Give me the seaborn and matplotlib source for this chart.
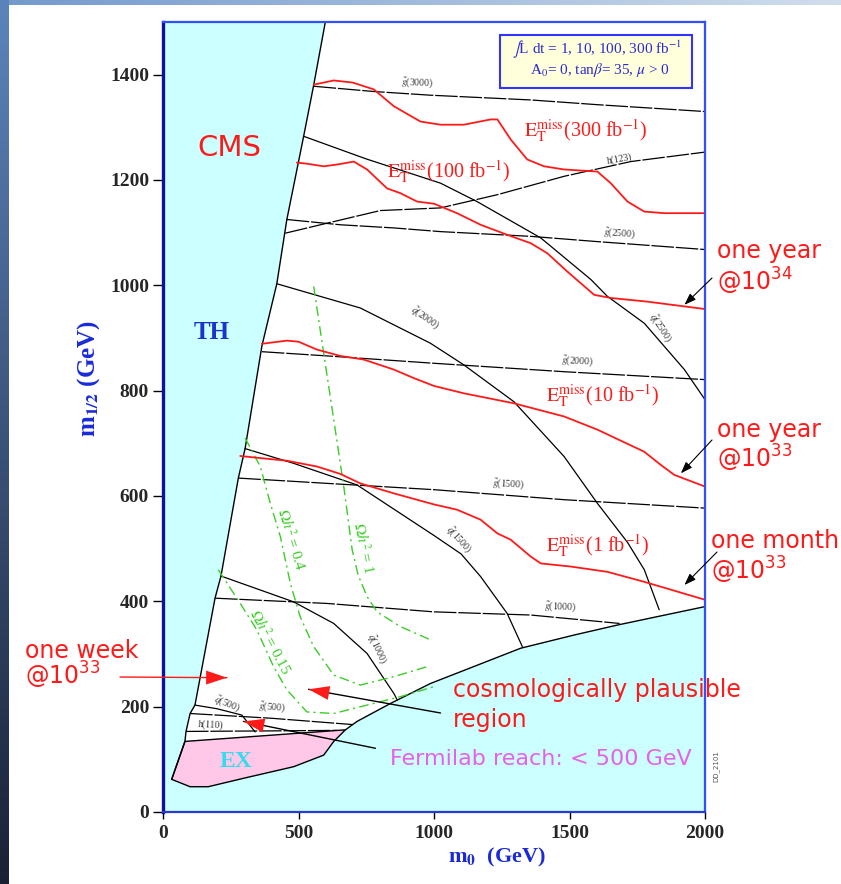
import matplotlib
matplotlib.use("Agg")
import matplotlib.pyplot as plt
import numpy as np
import seaborn as sns
from matplotlib.patches import Rectangle

W, H = 841, 884

# ---- excluded / allowed region boundaries (m0, m1/2 in GeV) ----
TH_M0 = [599, 556, 519, 457, 420, 365, 303, 278, 214, 192, 118, 100, 85, 81]
TH_M12 = [1500, 1380, 1283, 1125, 1003, 885, 690, 634, 448, 406, 203, 187, 153, 134]
EX_M0 = [81, 673, 630, 593, 482, 297, 167, 100, 32]
EX_M12 = [134, 156, 134, 108, 86, 64, 48, 48, 62]
LOW_M0 = [673, 716, 839, 987, 1320, 1517, 1677, 2000]
LOW_M12 = [156, 172, 206, 244, 311, 336, 355, 390]

# ---- sparticle mass contours ----
G3000_M0 = [556, 778, 987, 1357, 1603, 2000]
G3000_M12 = [1378, 1368, 1361, 1352, 1343, 1330]
Q2500_M0 = [519, 750, 1024, 1159, 1394, 1579, 1640, 1776, 1924, 2000]
Q2500_M12 = [1283, 1240, 1194, 1159, 1090, 1011, 979, 928, 840, 783]
H123_M0 = [451, 630, 802, 1024, 1233, 1480, 1726, 2000]
H123_M12 = [1099, 1121, 1142, 1147, 1172, 1207, 1235, 1253]
G2500_M0 = [457, 654, 852, 1024, 1357, 1603, 2000]
G2500_M12 = [1125, 1115, 1109, 1102, 1093, 1083, 1068]
Q2000_M0 = [420, 728, 987, 1110, 1295, 1480, 1603, 1714, 1776, 1831]
Q2000_M12 = [1003, 957, 890, 849, 779, 675, 586, 512, 460, 384]
G2000_M0 = [365, 605, 1000, 1480, 2000]
G2000_M12 = [874, 866, 852, 836, 821]
Q1500_M0 = [303, 482, 716, 1000, 1100, 1172, 1270, 1326]
Q1500_M12 = [690, 662, 621, 525, 490, 447, 377, 314]
G1500_M0 = [278, 605, 1000, 1480, 2000]
G1500_M12 = [634, 624, 612, 593, 577]
Q1000_M0 = [214, 482, 630, 753, 852, 864]
Q1000_M12 = [448, 399, 358, 301, 225, 213]
G1000_M0 = [192, 605, 1000, 1357, 1685]
G1000_M12 = [406, 396, 380, 374, 358]
Q500_M0 = [118, 200, 291, 340]
Q500_M12 = [203, 196, 184, 152]
G500_M0 = [100, 400, 700]
G500_M12 = [187, 178, 166]
H110_M0 = [85, 400, 640]
H110_M12 = [153, 154, 155]

# ---- missing ET reach curves ----
ET300_M0 = [556, 630, 700, 778, 852, 950, 1024, 1110, 1209, 1234, 1283, 1344, 1406,
            1480, 1603, 1652, 1714, 1776, 1850, 2000]
ET300_M12 = [1381, 1389, 1385, 1372, 1340, 1311, 1305, 1305, 1315, 1315, 1277, 1239, 1226,
             1220, 1216, 1194, 1159, 1140, 1137, 1137]
ET100_M0 = [494, 531, 593, 650, 704, 753, 827, 876, 938, 1000, 1085, 1172, 1270, 1357,
            1418, 1490, 1591, 1652, 1788, 1924, 2000]
ET100_M12 = [1233, 1231, 1226, 1230, 1235, 1220, 1184, 1175, 1159, 1155, 1137, 1115, 1096, 1080,
             1061, 1027, 982, 976, 969, 960, 955]
ET10_M0 = [365, 457, 500, 568, 654, 741, 852, 925, 1000, 1110, 1295, 1480, 1603, 1776,
           1837, 1887, 2000]
ET10_M12 = [889, 895, 893, 878, 866, 859, 840, 824, 809, 795, 776, 751, 726, 684,
            659, 640, 618]
ET1_M0 = [285, 359, 457, 568, 654, 728, 852, 1000, 1085, 1172, 1234, 1283, 1357, 1394,
          1505, 1640, 1776, 2000]
ET1_M12 = [676, 672, 667, 656, 642, 624, 605, 584, 574, 555, 529, 517, 485, 472,
           466, 456, 437, 403]

# ---- relic density contours ----
OM1_M0 = [556, 593, 630, 667, 698, 720, 753, 790, 876, 987]
OM1_M12 = [998, 871, 745, 618, 498, 450, 409, 380, 352, 327]
OM04_M0 = [303, 359, 396, 433, 470, 506, 556, 630, 728, 852, 975]
OM04_M12 = [710, 656, 586, 523, 434, 371, 314, 260, 241, 257, 276]
OM015_M0 = [204, 285, 346, 408, 457, 531, 630, 753, 876, 1000]
OM015_M12 = [460, 396, 346, 276, 232, 190, 187, 203, 219, 238]

# ---- contour name labels ----
CLAB_TEXT = [r"$\tilde{g}$(3000)", "h(123)", r"$\tilde{g}$(2500)", r"$\tilde{q}$(2000)",
             r"$\tilde{q}$(2500)", r"$\tilde{g}$(2000)", r"$\tilde{g}$(1500)", r"$\tilde{q}$(1500)",
             r"$\tilde{g}$(1000)", r"$\tilde{q}$(1000)", r"$\tilde{q}$(500)", r"$\tilde{g}$(500)",
             "h(110)"]
CLAB_M0 = [939, 1686, 1686, 969, 1837, 1530, 1275, 1091, 1468, 791, 237, 403, 177]
CLAB_M12 = [1385, 1239, 1098, 938, 919, 857, 623, 517, 389, 310, 205, 198, 165]
CLAB_ROT = [-2, 10, -4, -35, -57, -3, -3, -48, -2, -65, -22, -4, -3]

OM_TEXT = [r"$\Omega h^2$ = 0.4", r"$\Omega h^2$ = 1", r"$\Omega h^2$ = 0.15"]
OM_M0 = [473, 739, 396]
OM_M12 = [517, 502, 323]
OM_ROT = [-73, -78, -62]

ET_TEXT = ["300", "100", "10", "1"]
ET_M0 = [1331, 828, 1412, 1412]
ET_M12 = [1282, 1204, 779, 494]

RED = "#ff1a1a"
GREEN = "#3ccc28"
SERIF = "Liberation Serif"
SANS = "DejaVu Sans"

sns.set_style("white")
plt.rcParams["font.family"] = [SANS]
plt.rcParams["mathtext.fontset"] = "stix"

fig = plt.figure(figsize=(W / 100, H / 100), dpi=100)

# slide background strips
bg = fig.add_axes([0, 0, 1, 1], zorder=-10)
img = np.ones((H, W, 3))
t = np.linspace(0, 1, H)[:, None]
img[:, :9, :] = (np.array([0.36, 0.52, 0.74]) * (1 - t) + np.array([0.10, 0.13, 0.21]) * t)[:, None, :]
s = np.linspace(0, 1, W)[None, :, None]
img[:5, 9:, :] = (np.array([0.45, 0.60, 0.80]) * (1 - s) + np.array([0.82, 0.87, 0.93]) * s)[:, 9:, :]
bg.imshow(img, aspect="auto", extent=[0, 1, 0, 1])
bg.axis("off")


def fx(px):
    return px / W


def fy(py):
    return 1 - py / H


ax = fig.add_axes([fx(163), fy(812), 542 / W, 790 / H])
ax.set_facecolor("#ccffff")
ax.set_xlim(0, 2000)
ax.set_ylim(0, 1500)

# allowed (white) region and experimental exclusion
white_x = TH_M0 + LOW_M0 + [2000]
white_y = TH_M12 + LOW_M12 + [1500]
ax.fill(white_x, white_y, color="white", lw=0, zorder=1)
ax.fill(EX_M0, EX_M12, facecolor="#ffc8e8", edgecolor="black", lw=1.0, zorder=2)
sns.lineplot(x=TH_M0 + [32], y=TH_M12 + [62], sort=False, estimator=None, ax=ax,
             color="black", lw=1.0, zorder=3)
sns.lineplot(x=LOW_M0, y=LOW_M12, sort=False, estimator=None, ax=ax,
             color="black", lw=1.0, zorder=3)

dashed = (0, (18, 1.5))
contours = [
    (G3000_M0, G3000_M12, dashed), (Q2500_M0, Q2500_M12, "-"), (H123_M0, H123_M12, dashed),
    (G2500_M0, G2500_M12, dashed), (Q2000_M0, Q2000_M12, "-"), (G2000_M0, G2000_M12, dashed),
    (Q1500_M0, Q1500_M12, "-"), (G1500_M0, G1500_M12, dashed), (Q1000_M0, Q1000_M12, "-"),
    (G1000_M0, G1000_M12, dashed), (Q500_M0, Q500_M12, "-"), (G500_M0, G500_M12, dashed),
    (H110_M0, H110_M12, dashed),
]
for xs, ys, ls in contours:
    sns.lineplot(x=xs, y=ys, sort=False, estimator=None, ax=ax, color="black",
                 lw=0.9, linestyle=ls, zorder=4)

for xs, ys in [(OM1_M0, OM1_M12), (OM04_M0, OM04_M12), (OM015_M0, OM015_M12)]:
    sns.lineplot(x=xs, y=ys, sort=False, estimator=None, ax=ax, color=GREEN,
                 lw=1.0, linestyle=(0, (7, 3, 1.5, 3)), zorder=5)

for xs, ys in [(ET300_M0, ET300_M12), (ET100_M0, ET100_M12), (ET10_M0, ET10_M12), (ET1_M0, ET1_M12)]:
    sns.lineplot(x=xs, y=ys, sort=False, estimator=None, ax=ax, color=RED, lw=1.3, zorder=6)

for txt, x, y, r in zip(CLAB_TEXT, CLAB_M0, CLAB_M12, CLAB_ROT):
    ax.text(x, y, txt, rotation=r, ha="center", va="center", fontsize=7, color="#333333",
            family=SERIF, math_fontfamily="stix", zorder=7)

for txt, x, y, r in zip(OM_TEXT, OM_M0, OM_M12, OM_ROT):
    ax.text(x, y, txt, rotation=r, ha="center", va="center", fontsize=11, color=GREEN,
            family=SERIF, math_fontfamily="stix", zorder=7)

for lum, x, y in zip(ET_TEXT, ET_M0, ET_M12):
    ax.text(x, y, r"$\mathrm{E}_\mathrm{T}^\mathrm{miss}$(" + lum + r" fb$^{\mathrm{-1}}$)",
            ha="left", va="baseline", fontsize=14.5, color=RED, family=SERIF,
            math_fontfamily="stix", zorder=7)

ax.text(244, 1261, "CMS", ha="center", va="center", fontsize=21, color=RED, zorder=7)
ax.text(181, 910, "TH", ha="center", va="center", fontsize=18, color="#1a33cc",
        family=SERIF, weight="bold", zorder=7)
ax.text(270, 95, "EX", ha="center", va="center", fontsize=17, color="#33ddee",
        family=SERIF, weight="bold", zorder=7)

# axes styling
ax.set_xticks([0, 500, 1000, 1500, 2000])
ax.set_yticks(range(0, 1401, 200))
ax.tick_params(axis="x", direction="out", length=5, width=1, color="black", pad=4,
               labelsize=14, bottom=True)
ax.tick_params(axis="y", direction="out", length=7, width=1, color="black", pad=3,
               labelsize=14, left=True)
for lab in ax.get_xticklabels() + ax.get_yticklabels():
    lab.set_fontfamily(SERIF)
    lab.set_fontweight("bold")
for side, col, lw in [("top", "#3050ff", 1.6), ("right", "#3050ff", 1.6),
                      ("left", "#10109a", 2.4), ("bottom", "#2a3ad0", 1.6)]:
    ax.spines[side].set_color(col)
    ax.spines[side].set_linewidth(lw)
    ax.spines[side].set_zorder(8)
ax.set_xlabel("")
ax.set_ylabel("")

fig.text(fx(497), fy(857), r"m$_\mathbf{0}$  (GeV)", ha="center", va="center", fontsize=16,
         color="#1a2ad8", family=SERIF, weight="bold", math_fontfamily="stix")
fig.text(fx(89), fy(378), r"m$_\mathbf{1/2}$ (GeV)", ha="center", va="center", fontsize=18,
         color="#1a2ad8", family=SERIF, weight="bold", math_fontfamily="stix", rotation=90)

# parameter box
fig.patches.append(Rectangle((fx(500), fy(88)), 192 / W, 53 / H, transform=fig.transFigure,
                             facecolor="#ffffdc", edgecolor="#3333ff", lw=1.5, zorder=20))
fig.text(fx(597), fy(50), r"$\int$L dt = 1, 10, 100, 300 fb$^{\mathrm{-1}}$", ha="center",
         va="center", fontsize=11, color="#2a2ad0", family=SERIF, math_fontfamily="stix",
         zorder=21)
fig.text(fx(600), fy(70), r"A$_0$= 0, tan$\beta$= 35, $\mu$ > 0", ha="center", va="center",
         fontsize=11, color="#2a2ad0", family=SERIF, math_fontfamily="stix", zorder=21)

# red annotations
red_kw = dict(fontsize=17, color=RED, ha="left", va="baseline", math_fontfamily="dejavusans")
fig.text(fx(717), fy(258), "one year", **red_kw)
fig.text(fx(717), fy(291), r"@10$^{34}$", **red_kw)
fig.text(fx(717), fy(437), "one year", **red_kw)
fig.text(fx(717), fy(468), r"@10$^{33}$", **red_kw)
fig.text(fx(711), fy(548), "one month", **red_kw)
fig.text(fx(711), fy(580), r"@10$^{33}$", **red_kw)
fig.text(fx(25), fy(658), "one week", **red_kw)
fig.text(fx(25), fy(685), r"@10$^{33}$", **red_kw)
fig.text(fx(453), fy(697), "cosmologically plausible", **red_kw)
fig.text(fx(453), fy(727), "region", **red_kw)
fig.text(fx(390), fy(765), "Fermilab reach: < 500 GeV", fontsize=16, color="#e860e8",
         ha="left", va="baseline")
fig.text(fx(716), fy(766), "DD_2101", fontsize=5, color="#555555", rotation=90,
         ha="center", va="center")

HEAD = "-|>,head_length=1.5,head_width=0.5"


def arrow(tip, start, coords, shaft, head_color):
    ax.annotate("", xy=tip, xycoords="data", xytext=start, textcoords=coords,
                arrowprops=dict(arrowstyle="-", color=shaft, lw=1.0, shrinkA=0, shrinkB=0),
                annotation_clip=False, zorder=9)
    ax.annotate("", xy=tip, xycoords="data", xytext=start, textcoords=coords,
                arrowprops=dict(arrowstyle=HEAD, facecolor=head_color, edgecolor="none",
                                lw=0, shrinkA=0, shrinkB=0),
                annotation_clip=False, zorder=9)


arrow((236, 255), (fx(120), fy(677)), "figure fraction", RED, RED)
arrow((537, 233), (1024, 188), "data", "black", RED)
arrow((297, 172), (784, 121), "data", "black", RED)

for tip, start in [((1924, 963), (712, 278)), ((1911, 643), (712, 440)), ((1924, 431), (717, 552))]:
    ax.annotate("", xy=tip, xycoords="data", xytext=(fx(start[0]), fy(start[1])),
                textcoords="figure fraction",
                arrowprops=dict(arrowstyle="-|>,head_length=0.7,head_width=0.25",
                                color="black", lw=0.8, shrinkA=0, shrinkB=0),
                annotation_clip=False, zorder=9)

fig.savefig("out.png", dpi=100)
